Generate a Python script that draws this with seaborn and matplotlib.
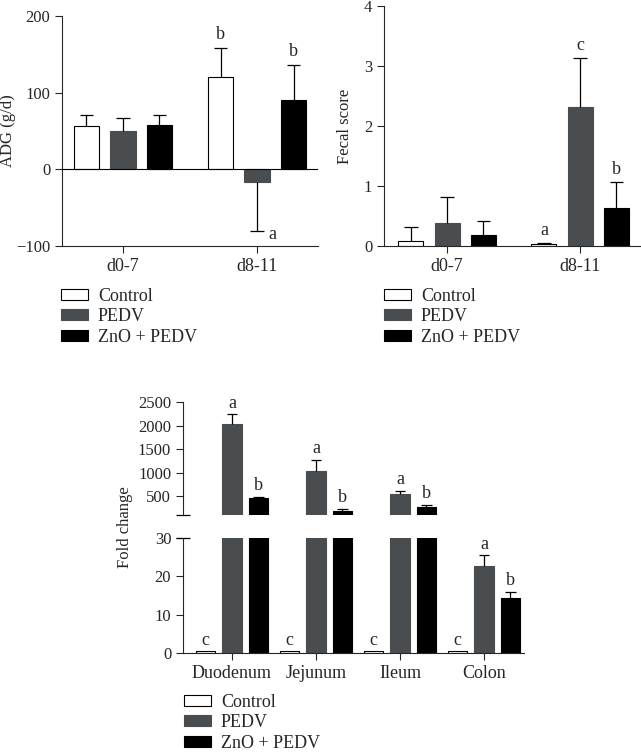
import numpy as np
import pandas as pd
import matplotlib
matplotlib.use("Agg")
import matplotlib.pyplot as plt
from matplotlib.patches import Patch
import seaborn as sns

# ---------------- data ----------------
groups = ["Control", "PEDV", "ZnO + PEDV"]
periods = ["d0-7", "d8-11"]
tissues = ["Duodenum", "Jejunum", "Ileum", "Colon"]

adg_control = [57, 121]
adg_pedv = [50, -16]
adg_zno = [58, 91]
adg_sd_control = [14, 37]
adg_sd_pedv = [17, 65]
adg_sd_zno = [13, 45]
adg_let_control = ["", "b"]
adg_let_pedv = ["", "a"]
adg_let_zno = ["", "b"]

fecal_control = [0.08, 0.03]
fecal_pedv = [0.38, 2.32]
fecal_zno = [0.18, 0.64]
fecal_sd_control = [0.23, 0.02]
fecal_sd_pedv = [0.44, 0.81]
fecal_sd_zno = [0.23, 0.42]
fecal_let_control = ["", "a"]
fecal_let_pedv = ["", "c"]
fecal_let_zno = ["", "b"]

fold_control = [0.4, 0.4, 0.4, 0.4]
fold_pedv = [2040, 1035, 556, 22.6]
fold_zno = [470, 190, 268, 14.3]
fold_sd_control = [0, 0, 0, 0]
fold_sd_pedv = [195, 235, 60, 2.8]
fold_sd_zno = [22, 35, 45, 1.5]
fold_let_control = ["c", "c", "c", "c"]
fold_let_pedv = ["a", "a", "a", "a"]
fold_let_zno = ["b", "b", "b", "b"]

colors = {"Control": "#ffffff", "PEDV": "#4a4d50", "ZnO + PEDV": "#000000"}
edges = {"Control": "#000000", "PEDV": "#4a4d50", "ZnO + PEDV": "#000000"}

sns.set_style("ticks")
plt.rcParams["font.family"] = ["Liberation Serif", "DejaVu Serif"]
plt.rcParams["axes.linewidth"] = 0.8

TICK = 12
XTICK = 13
LAB = 12
LEG = 13
LET = 13

fig = plt.figure(figsize=(6.41, 7.53), dpi=100)
W, H = 641.0, 753.0
axA = fig.add_axes([62 / W, 1 - 246 / H, (318 - 62) / W, (246 - 16) / H])
axB = fig.add_axes([384 / W, 1 - 246 / H, (640 - 384) / W, (246 - 6) / H])
axCu = fig.add_axes([183 / W, 1 - 515 / H, (524 - 183) / W, (515 - 402) / H])
axCl = fig.add_axes([183 / W, 1 - 653 / H, (524 - 183) / W, (653 - 537.7) / H])


def make_df(cats, vals):
    rows = []
    for g, v in zip(groups, vals):
        for c, x in zip(cats, v):
            rows.append({"cat": c, "group": g, "value": x})
    return pd.DataFrame(rows)


def draw_bars(ax, cats, vals, width, gap):
    df = make_df(cats, vals)
    sns.barplot(data=df, x="cat", y="value", hue="group", order=cats,
                hue_order=groups, palette=colors, width=width, gap=gap,
                errorbar=None, legend=False, ax=ax, saturation=1,
                linewidth=0.8, edgecolor="black")
    for g, cont in zip(groups, ax.containers):
        for bar in cont:
            bar.set_edgecolor(edges[g])


def draw_err(ax, vals, sds, letters, offset=3, cap_frac=0.27,
             limit=None, lower=None):
    for gi, cont in enumerate(ax.containers):
        for j, bar in enumerate(cont):
            m = vals[gi][j]
            s = sds[gi][j]
            x = bar.get_x() + bar.get_width() / 2
            cw = bar.get_width() * cap_frac
            end = m + s if m >= 0 else m - s
            if s > 0:
                ax.vlines(x, m, end, color="black", lw=0.9)
                ax.hlines(end, x - cw, x + cw, color="black", lw=0.9)
            lt = letters[gi][j]
            if not lt:
                continue
            top = max(end, m)
            if limit is not None and top > limit:
                continue
            if lower is not None and top < lower:
                continue
            if m < 0:
                ax.annotate(lt, (x + cw, end), xytext=(3, -2),
                            textcoords="offset points", ha="left", va="center",
                            fontsize=LET)
            else:
                ax.annotate(lt, (x, top), xytext=(0, offset),
                            textcoords="offset points", ha="center",
                            va="bottom", fontsize=LET)


def style(ax):
    sns.despine(ax=ax)
    ax.tick_params(direction="out", length=5, width=0.8, labelsize=TICK)
    ax.tick_params(axis="x", labelsize=XTICK)
    ax.set_xlabel("")


# ---- Panel A ----
adg_vals = [adg_control, adg_pedv, adg_zno]
adg_sds = [adg_sd_control, adg_sd_pedv, adg_sd_zno]
draw_bars(axA, periods, adg_vals, 0.817, 0.31)
axA.axhline(0, color="black", lw=0.8, zorder=3)
draw_err(axA, adg_vals, adg_sds, [adg_let_control, adg_let_pedv, adg_let_zno],
         offset=4)
axA.set_ylim(-100, 200)
axA.set_yticks([-100, 0, 100, 200])
axA.set_xlim(-0.455, 1.455)
axA.set_ylabel("ADG (g/d)", fontsize=LAB)
axA.yaxis.set_label_coords(-0.178, 0.5)
style(axA)

# ---- Panel B ----
fecal_vals = [fecal_control, fecal_pedv, fecal_zno]
fecal_sds = [fecal_sd_control, fecal_sd_pedv, fecal_sd_zno]
draw_bars(axB, periods, fecal_vals, 0.817, 0.31)
draw_err(axB, fecal_vals, fecal_sds,
         [fecal_let_control, fecal_let_pedv, fecal_let_zno], offset=3)
axB.set_ylim(0, 4)
axB.set_yticks([0, 1, 2, 3, 4])
axB.set_xlim(-0.474, 1.45)
axB.set_ylabel("Fecal score", fontsize=LAB)
axB.yaxis.set_label_coords(-0.121, 0.5)
style(axB)

# ---- Panel C ----
fold_vals = [fold_control, fold_pedv, fold_zno]
fold_sds = [fold_sd_control, fold_sd_pedv, fold_sd_zno]
fold_lets = [fold_let_control, fold_let_pedv, fold_let_zno]
for ax in (axCu, axCl):
    draw_bars(ax, tissues, fold_vals, 0.945, 0.28)
    ax.set_xlim(-0.583, 3.476)
    style(ax)
draw_err(axCu, fold_vals, fold_sds, fold_lets, offset=2, lower=30)
draw_err(axCl, fold_vals, fold_sds, fold_lets, offset=2, limit=30)
axCu.set_ylim(100, 2500)
axCu.set_yticks([500, 1000, 1500, 2000, 2500])
axCu.spines["bottom"].set_visible(False)
axCu.tick_params(axis="x", bottom=False, labelbottom=False)
axCu.set_ylabel("")
axCl.set_ylim(0, 30)
axCl.set_yticks([0, 10, 20, 30])
axCl.set_ylabel("")
axCu.plot([0], [0], marker="_", ms=10, mew=0.9, color="black",
          transform=axCu.transAxes, clip_on=False)
axCl.plot([0], [1], marker="_", ms=10, mew=0.9, color="black",
          transform=axCl.transAxes, clip_on=False)
fig.text(125 / W, 1 - 527 / H, "Fold change", rotation=90, ha="center",
         va="center", fontsize=LAB)

# ---- legends ----
handles = [Patch(facecolor=colors[g], edgecolor=edges[g], linewidth=0.8)
           for g in groups]


def add_legend(ax, x, y):
    ax.legend(handles, groups, loc="upper left", bbox_to_anchor=(x / W, 1 - y / H),
              bbox_transform=fig.transFigure, frameon=False, fontsize=LEG,
              handlelength=1.5, handleheight=0.55, handletextpad=0.55,
              labelspacing=0.18, borderpad=0, borderaxespad=0)


add_legend(axA, 61, 288)
add_legend(axB, 384, 288)
add_legend(axCl, 184, 694)

fig.savefig("out.png", dpi=100)
